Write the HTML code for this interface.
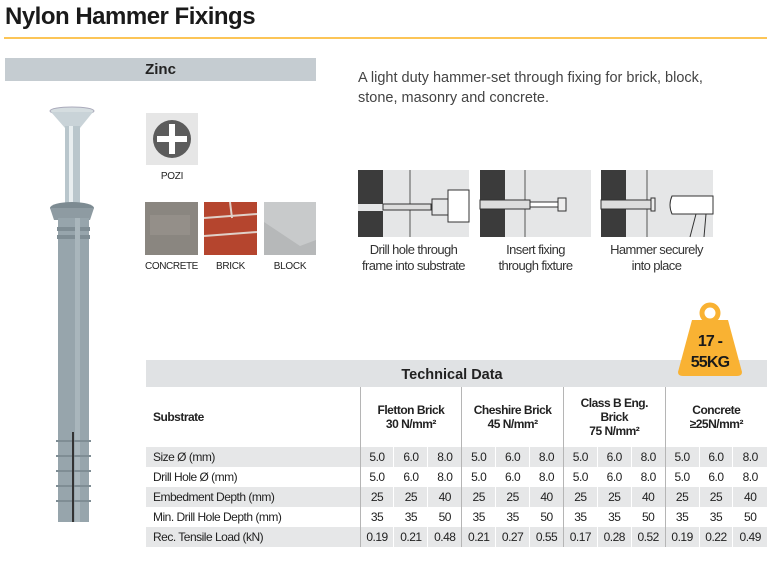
<!DOCTYPE html>
<html><head><meta charset="utf-8"><style>
*{margin:0;padding:0;box-sizing:border-box}
body{width:767px;height:563px;background:#fff;position:relative;overflow:hidden;font-family:"Liberation Sans",sans-serif;color:#222}
.a{position:absolute}
.c{font-family:"Liberation Sans Narrow","Liberation Sans",sans-serif}
table{border-collapse:collapse;position:absolute;left:146px;top:387px;width:621px;font-size:12px;letter-spacing:-0.5px;table-layout:fixed}
td{height:20px;text-align:center;padding:0;white-space:nowrap}
td.l{text-align:left;padding-left:7px}
tr.g td{background:#e6e7e8}
td.v{border-left:1.5px solid #b5b5b5}
td.s{border-left:1px solid #fff}
th{font-weight:bold;font-size:12px;height:60px;letter-spacing:-0.5px;border-left:1.5px solid #b5b5b5}
</style></head><body>
<div class="a" style="left:5px;top:3px;font-size:24px;font-weight:bold;color:#1a1a1a;letter-spacing:-0.5px">Nylon Hammer Fixings</div>
<div class="a" style="left:4px;top:37px;width:763px;height:2px;background:#fcc557"></div>
<div class="a" style="left:5px;top:58px;width:311px;height:23px;background:#c5ccd1;text-align:center;font-weight:bold;font-size:15px;line-height:23px">Zinc</div>
<div class="a" style="left:358px;top:68px;font-size:14.5px;line-height:20px;color:#444">A light duty hammer-set through fixing for brick, block,<br>stone, masonry and concrete.</div>

<svg class="a" style="left:0;top:0" width="767" height="563">
<ellipse cx="72" cy="111" rx="22" ry="4" fill="#d5dde0" stroke="#aab" />
<polygon points="51,112 93,112 80,128 65,128" fill="#c9d3d8"/>
<rect x="65" y="126" width="15" height="80" fill="#b9c6cc"/>
<rect x="69" y="126" width="4" height="80" fill="#e8eef0"/>
<ellipse cx="72" cy="208" rx="22" ry="6" fill="#7d8b92"/>
<polygon points="50,208 94,208 90,220 54,220" fill="#8e9ba2"/>
<rect x="58" y="218" width="31" height="304" fill="#97a5ac"/>
<rect x="57" y="227" width="33" height="4" fill="#7f8d94"/>
<rect x="57" y="235" width="33" height="4" fill="#7f8d94"/>
<rect x="75" y="218" width="5" height="304" fill="#a9b6bc"/>
<g fill="#7f8d94"><rect x="56" y="440" width="35" height="2"/><rect x="56" y="455" width="35" height="2"/><rect x="56" y="470" width="35" height="2"/><rect x="56" y="485" width="35" height="2"/><rect x="56" y="500" width="35" height="2"/></g>
<rect x="72" y="432" width="2" height="90" fill="#333"/>
<rect x="146" y="113" width="52" height="52" fill="#e6e6e6"/>
<circle cx="172" cy="139" r="19" fill="#5c5c5c"/>
<g fill="#fff"><rect x="169" y="124" width="6" height="30"/><rect x="157" y="136" width="30" height="6"/></g>
<rect x="145" y="202" width="53" height="53" fill="#8a8680"/>
<rect x="150" y="215" width="40" height="20" fill="#9b968f" opacity=".6"/>
<rect x="204" y="202" width="53" height="53" fill="#b5452e"/>
<g stroke="#e0d0c8" stroke-width="2"><line x1="204" y1="218" x2="257" y2="214"/><line x1="204" y1="236" x2="257" y2="232"/><line x1="230" y1="202" x2="232" y2="218"/></g>
<rect x="264" y="202" width="52" height="53" fill="#b6b8b9"/>
<polygon points="264,202 316,202 316,240 300,246 264,222" fill="#c8cacb"/>
<rect x="358" y="170" width="111" height="67" fill="#e5e6e7"/>
<rect x="358" y="170" width="25" height="67" fill="#3b3b3b"/>
<rect x="358" y="204" width="25" height="7" fill="#e5e6e7"/>
<line x1="410" y1="170" x2="410" y2="237" stroke="#555"/>
<rect x="383" y="204" width="48" height="6" fill="#ddd" stroke="#333"/>
<rect x="432" y="199" width="16" height="16" fill="none" stroke="#333"/>
<rect x="448" y="190" width="21" height="32" fill="#fff" stroke="#333"/>
<rect x="480" y="170" width="111" height="67" fill="#e5e6e7"/>
<rect x="480" y="170" width="25" height="67" fill="#3b3b3b"/>
<line x1="525" y1="170" x2="525" y2="237" stroke="#555"/>
<rect x="480" y="200" width="50" height="9" fill="#ddd" stroke="#333"/>
<rect x="530" y="202" width="28" height="5" fill="#fff" stroke="#333"/>
<polygon points="558,198 566,198 566,211 558,211" fill="#eee" stroke="#333"/>
<rect x="601" y="170" width="112" height="67" fill="#e5e6e7"/>
<rect x="601" y="170" width="25" height="67" fill="#3b3b3b"/>
<line x1="647" y1="170" x2="647" y2="237" stroke="#555"/>
<rect x="601" y="200" width="50" height="9" fill="#ddd" stroke="#333"/>
<rect x="651" y="198" width="4" height="13" fill="#eee" stroke="#333"/>
<path d="M672,196 Q668,205 672,214 L713,214 L713,196 Z" fill="#fff" stroke="#333"/>
<path d="M696,214 L690,237 M706,214 L704,237" stroke="#333" fill="none"/>
</svg>
<div class="a c" style="left:146px;top:171px;width:52px;text-align:center;font-size:10px;letter-spacing:-0.3px">POZI</div>
<div class="a c" style="left:138px;top:261px;width:67px;text-align:center;font-size:10px;letter-spacing:-0.4px">CONCRETE</div>
<div class="a c" style="left:204px;top:261px;width:53px;text-align:center;font-size:10px;letter-spacing:-0.3px">BRICK</div>
<div class="a c" style="left:264px;top:261px;width:52px;text-align:center;font-size:10px;letter-spacing:-0.3px">BLOCK</div>
<div class="a c" style="left:348px;top:242px;width:131px;text-align:center;font-size:13px;line-height:16px;color:#333;letter-spacing:-0.6px">Drill hole through<br>frame into substrate</div>
<div class="a c" style="left:470px;top:242px;width:131px;text-align:center;font-size:13px;line-height:16px;color:#333;letter-spacing:-0.6px">Insert fixing<br>through fixture</div>
<div class="a c" style="left:591px;top:242px;width:131px;text-align:center;font-size:13px;line-height:16px;color:#333;letter-spacing:-0.6px">Hammer securely<br>into place</div>
<div class="a" style="left:146px;top:360px;width:621px;height:27px;background:#e0e2e4"></div>
<div class="a" style="left:146px;top:360px;width:612px;height:27px;text-align:center;font-weight:bold;font-size:14.5px;line-height:30px">Technical Data</div>
<svg class="a" style="left:670px;top:295px" width="80" height="85">
<circle cx="40" cy="18" r="8" fill="none" stroke="#f9b233" stroke-width="5"/>
<path d="M22,25 L58,25 L72,77 Q72,81 67,81 L13,81 Q8,81 8,77 Z" fill="#f9b233"/>
<text x="40" y="51" text-anchor="middle" font-family="Liberation Sans, sans-serif" font-weight="bold" font-size="16" letter-spacing="-0.8" fill="#1a1a1a">17 -</text>
<text x="40" y="72" text-anchor="middle" font-family="Liberation Sans, sans-serif" font-weight="bold" font-size="16" letter-spacing="-0.8" fill="#1a1a1a">55KG</text>
</svg>
<table class="c">
<colgroup><col style="width:214px"><col span="12" style="width:33.9px"></colgroup>
<tr><th style="text-align:left;padding-left:7px;border-left:none">Substrate</th><th colspan="3">Fletton Brick<br>30 N/mm²</th><th colspan="3">Cheshire Brick<br>45 N/mm²</th><th colspan="3">Class B Eng.<br>Brick<br>75 N/mm²</th><th colspan="3">Concrete<br>≥25N/mm²</th></tr>
<tr class="g"><td class="l">Size Ø (mm)</td><td class="v">5.0</td><td class="s">6.0</td><td class="s">8.0</td><td class="v">5.0</td><td class="s">6.0</td><td class="s">8.0</td><td class="v">5.0</td><td class="s">6.0</td><td class="s">8.0</td><td class="v">5.0</td><td class="s">6.0</td><td class="s">8.0</td></tr>
<tr><td class="l">Drill Hole Ø (mm)</td><td class="v">5.0</td><td class="s">6.0</td><td class="s">8.0</td><td class="v">5.0</td><td class="s">6.0</td><td class="s">8.0</td><td class="v">5.0</td><td class="s">6.0</td><td class="s">8.0</td><td class="v">5.0</td><td class="s">6.0</td><td class="s">8.0</td></tr>
<tr class="g"><td class="l">Embedment Depth (mm)</td><td class="v">25</td><td class="s">25</td><td class="s">40</td><td class="v">25</td><td class="s">25</td><td class="s">40</td><td class="v">25</td><td class="s">25</td><td class="s">40</td><td class="v">25</td><td class="s">25</td><td class="s">40</td></tr>
<tr><td class="l">Min. Drill Hole Depth (mm)</td><td class="v">35</td><td class="s">35</td><td class="s">50</td><td class="v">35</td><td class="s">35</td><td class="s">50</td><td class="v">35</td><td class="s">35</td><td class="s">50</td><td class="v">35</td><td class="s">35</td><td class="s">50</td></tr>
<tr class="g"><td class="l">Rec. Tensile Load (kN)</td><td class="v">0.19</td><td class="s">0.21</td><td class="s">0.48</td><td class="v">0.21</td><td class="s">0.27</td><td class="s">0.55</td><td class="v">0.17</td><td class="s">0.28</td><td class="s">0.52</td><td class="v">0.19</td><td class="s">0.22</td><td class="s">0.49</td></tr>
</table>
</body></html>
